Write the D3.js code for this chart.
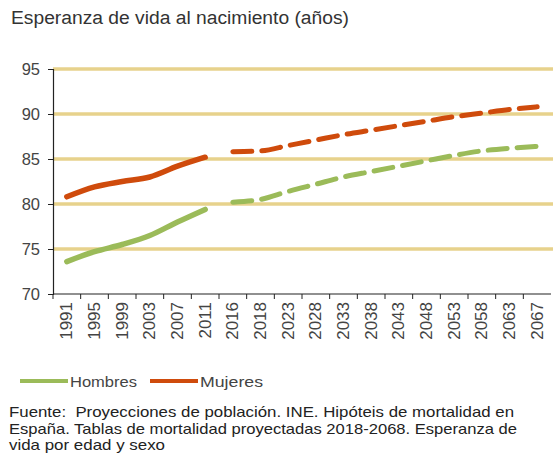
<!DOCTYPE html>
<html>
<head>
<meta charset="utf-8">
<script src="https://cdn.jsdelivr.net/npm/d3@7"></script>
<style>
  body { margin: 0; background: #fff; }
  text { font-family: "Liberation Sans", Arial, sans-serif; }
  .note { white-space: pre; }
</style>
</head>
<body>
<svg id="chart" width="553" height="463"></svg>
<script>
// years on the x axis
const years = ["1991","1995","1999","2003","2007","2011","2016","2018","2023","2028","2033","2038","2043","2048","2053","2058","2063","2067"];

// observed (solid) and projected (dashed) values
const hombresObs = [73.6, 74.7, 75.5, 76.5, 78.0, 79.4];
const mujeresObs = [80.8, 81.9, 82.5, 83.0, 84.2, 85.2];
const hombresProj = [80.2, 80.5, 81.4, 82.2, 83.0, 83.6, 84.2, 84.8, 85.4, 85.9, 86.2, 86.4];
const mujeresProj = [85.8, 85.9, 86.5, 87.1, 87.7, 88.2, 88.7, 89.2, 89.7, 90.1, 90.5, 90.8];

const yTicks = [70, 75, 80, 85, 90, 95];

const green = "#9bbb59";
const orange = "#cf4b0c";
const gridColor = "#e7d28c";

const svg = d3.select("#chart");
const margin = {top: 69, left: 53, right: 2, bottom: 169};
const width = 553 - margin.left - margin.right;
const height = 463 - margin.top - margin.bottom;

const x = d3.scaleBand().domain(years).range([0, width]);
const y = d3.scaleLinear().domain([70, 95]).range([height, 0]);

const g = svg.append("g").attr("transform", `translate(${margin.left},${margin.top})`);

// title
svg.append("text")
    .attr("x", 11).attr("y", 24)
    .attr("font-size", 18)
    .attr("fill", "#333")
    .attr("textLength", 338)
    .attr("lengthAdjust", "spacingAndGlyphs")
    .text("Esperanza de vida al nacimiento (años)");

// grid
g.selectAll(".grid")
    .data(yTicks.filter(d => d > 70))
    .enter().append("line")
    .attr("x1", 0).attr("x2", width + margin.right)
    .attr("y1", d => y(d)).attr("y2", d => y(d))
    .attr("stroke", gridColor)
    .attr("stroke-width", 3.5);

// y axis
const yAxis = g.append("g")
    .call(d3.axisLeft(y).tickValues(yTicks).tickSize(5).tickPadding(8));
yAxis.select(".domain").attr("stroke", "#222").attr("stroke-width", 1.2);
yAxis.selectAll(".tick line").attr("stroke", "#222");
yAxis.selectAll("text").attr("font-size", 16.5).attr("fill", "#444")
    .attr("font-family", "Liberation Sans, Arial, sans-serif");

// x axis: ticks on band edges
const xAxis = g.append("g").attr("transform", `translate(0,${height})`);
xAxis.append("line")
    .attr("x1", 0).attr("x2", width)
    .attr("stroke", "#222").attr("stroke-width", 1.2);
xAxis.selectAll(".edge")
    .data(years)
    .enter().append("line")
    .attr("x1", d => x(d)).attr("x2", d => x(d))
    .attr("y1", 0).attr("y2", 5)
    .attr("stroke", "#222");
xAxis.selectAll(".lbl")
    .data(years)
    .enter().append("text")
    .attr("transform", d => `translate(${x(d) + x.bandwidth() / 2 + 5.5},8) rotate(-90)`)
    .attr("text-anchor", "end")
    .attr("font-size", 17)
    .attr("fill", "#444")
    .text(d => d);

const line = d3.line()
    .x((d, i) => x(d.year) + x.bandwidth() / 2)
    .y(d => y(d.v))
    .curve(d3.curveMonotoneX);

function pts(vals, offset) {
    return vals.map((v, i) => ({year: years[i + offset], v: v}));
}

const series = [
    {vals: hombresObs, off: 0, color: green, dash: null},
    {vals: mujeresObs, off: 0, color: orange, dash: null},
    {vals: hombresProj, off: 6, color: green, dash: "19,10"},
    {vals: mujeresProj, off: 6, color: orange, dash: "19,10"}
];

series.forEach(s => {
    g.append("path")
        .datum(pts(s.vals, s.off))
        .attr("d", line)
        .attr("fill", "none")
        .attr("stroke", s.color)
        .attr("stroke-width", s.dash ? 5 : 5.5)
        .attr("stroke-linecap", "round")
        .attr("stroke-dasharray", s.dash);
});

// legend
const legend = svg.append("g").attr("transform", "translate(0,381)");
const legItems = [
    {name: "Hombres", color: green, x0: 20, w: 67},
    {name: "Mujeres", color: orange, x0: 150, w: 63}
];
legItems.forEach(d => {
    legend.append("line")
        .attr("x1", d.x0).attr("x2", d.x0 + 48)
        .attr("stroke", d.color).attr("stroke-width", 4);
    legend.append("text")
        .attr("x", d.x0 + 50).attr("y", 5.5)
        .attr("font-size", 15.5).attr("fill", "#444")
        .attr("textLength", d.w)
        .attr("lengthAdjust", "spacingAndGlyphs")
        .text(d.name);
});

// source note
const notes = [
    "Fuente:  Proyecciones de población. INE. Hipóteis de mortalidad en",
    "España. Tablas de mortalidad proyectadas 2018-2068. Esperanza de",
    "vida por edad y sexo"
];
const noteLen = [505, 508, 156];
svg.selectAll(".note")
    .data(notes)
    .enter().append("text")
    .attr("class", "note")
    .attr("x", 9)
    .attr("y", (d, i) => 417 + i * 16.5)
    .attr("font-size", 15)
    .attr("fill", "#222")
    .attr("textLength", (d, i) => noteLen[i])
    .attr("lengthAdjust", "spacingAndGlyphs")
    .text(d => d);
</script>
</body>
</html>
